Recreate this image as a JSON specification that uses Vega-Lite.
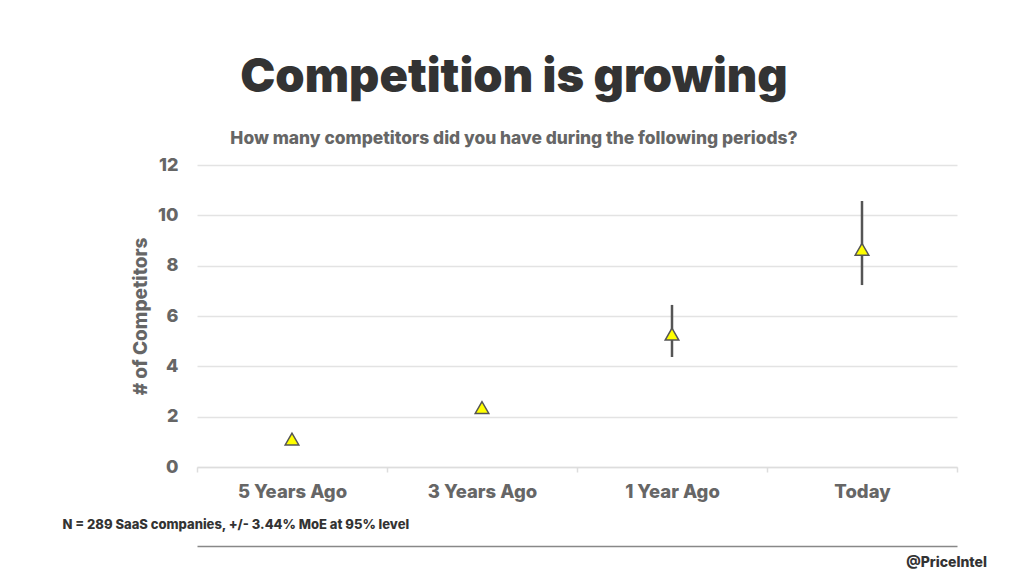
{
  "$schema": "https://vega.github.io/schema/vega-lite/v6.json",
  "width": 760,
  "height": 302,
  "autosize": {"type": "none"},
  "padding": {"left": 197, "top": 165, "right": 67, "bottom": 109},
  "background": "white",
  "title": {
    "text": "Competition is growing",
    "subtitle": "How many competitors did you have during the following periods?",
    "anchor": "middle",
    "dx": -63,
    "offset": 8,
    "font": "Inter",
    "fontWeight": 900,
    "fontSize": 47,
    "color": "#333333",
    "subtitleFont": "Inter",
    "subtitleFontWeight": 800,
    "subtitleFontSize": 17.4,
    "subtitleColor": "#666666",
    "subtitlePadding": 28
  },
  "data": {
    "values": [
      {"period": "5 Years Ago", "mean": 1.11, "low": null, "high": null},
      {"period": "3 Years Ago", "mean": 2.36, "low": null, "high": null},
      {"period": "1 Year Ago", "mean": 5.28, "low": 4.37, "high": 6.44},
      {"period": "Today", "mean": 8.65, "low": 7.23, "high": 10.57}
    ]
  },
  "config": {
    "view": {"stroke": null},
    "font": "Inter"
  },
  "layer": [
    {
      "layer": [
        {
          "transform": [{"filter": "datum.low != null"}],
          "mark": {"type": "rule", "color": "#555555", "strokeWidth": 2.5},
          "encoding": {
            "x": {"field": "period", "type": "nominal", "sort": ["5 Years Ago", "3 Years Ago", "1 Year Ago", "Today"]},
            "y": {"field": "low", "type": "quantitative"},
            "y2": {"field": "high"}
          }
        },
        {
          "mark": {"type": "point", "shape": "triangle-up", "size": 185, "filled": true, "fill": "#ffff00", "stroke": "#555555", "strokeWidth": 1.5, "opacity": 1},
          "encoding": {
            "x": {
              "field": "period", "type": "nominal", "sort": ["5 Years Ago", "3 Years Ago", "1 Year Ago", "Today"],
              "scale": {"domain": ["5 Years Ago", "3 Years Ago", "1 Year Ago", "Today"], "paddingInner": 0, "paddingOuter": 0},
              "axis": {
                "labelAngle": 0, "labelAlign": "center",
                "labelFont": "Inter", "labelFontWeight": 800, "labelFontSize": 18.5, "labelColor": "#666666",
                "labelPadding": 19,
                "tickBand": "extent", "tickSize": 5, "tickColor": "#dddddd", "tickWidth": 1.5,
                "domainColor": "#dddddd", "domainWidth": 1.5,
                "title": "N = 289 SaaS companies, +/- 3.44% MoE at 95% level",
                "titleFont": "Inter", "titleFontWeight": 800, "titleFontSize": 13, "titleColor": "#333333",
                "titleX": -135, "titleY": 57, "titleAlign": "left", "titleBaseline": "middle", "titleAnchor": "start"
              }
            },
            "y": {
              "field": "mean", "type": "quantitative",
              "scale": {"domain": [0, 12], "nice": false},
              "axis": {
                "values": [0, 2, 4, 6, 8, 10, 12],
                "ticks": false, "domain": false,
                "gridColor": "#e3e3e3", "gridWidth": 1.5,
                "labelFont": "Inter", "labelFontWeight": 800, "labelFontSize": 18, "labelColor": "#666666",
                "labelPadding": 19,
                "title": "# of Competitors",
                "titleFont": "Inter", "titleFontWeight": 800, "titleFontSize": 19, "titleColor": "#666666",
                "titleX": -57, "titleY": 151, "titleAngle": -90, "titleAlign": "center", "titleBaseline": "middle"
              }
            }
          }
        }
      ]
    },
    {
      "mark": {"type": "point", "opacity": 0},
      "encoding": {
        "x": {
          "field": "period", "type": "nominal",
          "scale": {"domain": ["5 Years Ago", "3 Years Ago", "1 Year Ago", "Today"], "paddingInner": 0, "paddingOuter": 0},
          "axis": {
            "orient": "bottom", "offset": 79, "labels": false, "ticks": false,
            "grid": false, "domain": true, "domainColor": "#888888", "domainWidth": 1.5,
            "title": null
          }
        },
        "y": {
          "field": "mean", "type": "quantitative",
          "scale": {"domain": [0, 12]},
          "axis": {
            "orient": "right", "labels": false, "ticks": false, "grid": false, "domain": false,
            "title": "@PriceIntel",
            "titleFont": "Inter", "titleFontWeight": 800, "titleFontSize": 14, "titleColor": "#333333",
            "titleAngle": 0, "titleX": -11, "titleY": 397, "titleAlign": "center", "titleBaseline": "middle"
          }
        }
      }
    }
  ],
  "resolve": {"scale": {"x": "independent", "y": "independent"}, "axis": {"x": "independent", "y": "independent"}}
}
